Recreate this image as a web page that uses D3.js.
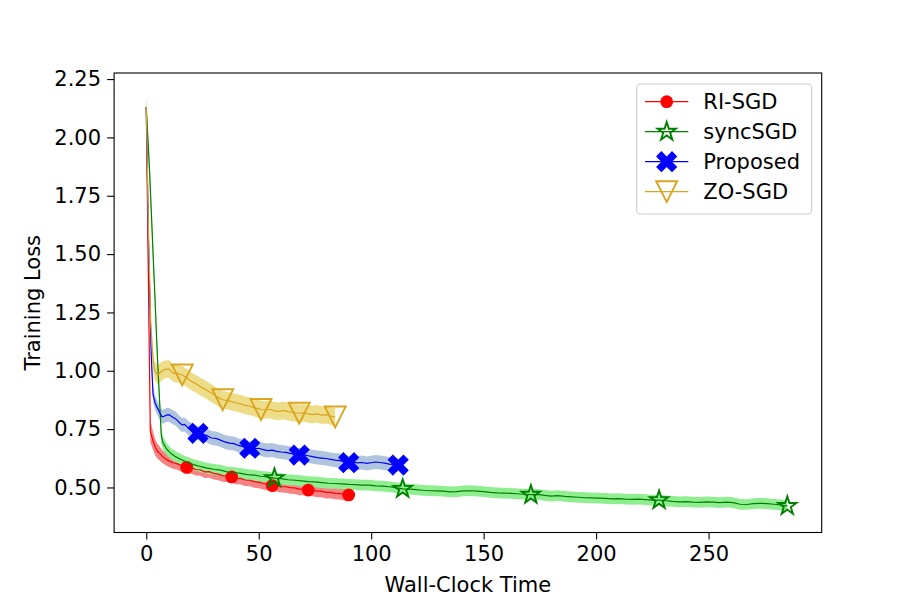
<!DOCTYPE html>
<html>
<head>
<meta charset="utf-8">
<script src="https://cdnjs.cloudflare.com/ajax/libs/d3/7.8.5/d3.min.js"></script>
<style>
  body { margin: 0; background: #fff; }
  svg text { font-family: "DejaVu Sans", sans-serif; fill: #000; }
</style>
</head>
<body>
<script>
// each row: [wall-clock time, mean training loss, std]
const riSgd = [
  [0, 2.13, 0.035], [1, 1.35, 0.05], [1.8, 0.74, 0.045], [3, 0.70, 0.04], [4, 0.672, 0.035],
  [5, 0.655, 0.032], [6, 0.646, 0.03], [7, 0.634, 0.028], [8, 0.626, 0.027], [10, 0.614, 0.026],
  [12, 0.606, 0.026], [14, 0.601, 0.026], [16, 0.592, 0.026], [18, 0.586, 0.026], [20, 0.585, 0.026],
  [22, 0.577, 0.026], [24, 0.576, 0.026], [26, 0.567, 0.026], [28, 0.568, 0.026], [30, 0.560, 0.026],
  [32, 0.557, 0.026], [34, 0.551, 0.026], [36, 0.549, 0.026], [38, 0.545, 0.026], [40, 0.540, 0.026],
  [42, 0.539, 0.026], [44, 0.532, 0.026], [46, 0.531, 0.026], [48, 0.525, 0.026], [50, 0.523, 0.026],
  [52, 0.517, 0.026], [54, 0.513, 0.026], [56, 0.508, 0.026], [58, 0.508, 0.026], [60, 0.504, 0.026],
  [62, 0.503, 0.026], [64, 0.499, 0.026], [66, 0.498, 0.026], [68, 0.493, 0.026], [70, 0.493, 0.026],
  [72, 0.489, 0.026], [74, 0.488, 0.026], [76, 0.484, 0.026], [78, 0.484, 0.026], [80, 0.479, 0.026],
  [82, 0.479, 0.026], [84, 0.475, 0.026], [86, 0.474, 0.026], [88, 0.470, 0.026], [90, 0.468, 0.026]
];
const syncSgd = [
  [0, 2.13, 0.035], [1.5, 1.85, 0.045], [3.7, 1.35, 0.045], [5, 1.05, 0.04], [6.7, 0.72, 0.032],
  [7.5, 0.69, 0.028], [9, 0.665, 0.025], [11, 0.645, 0.023], [13, 0.632, 0.023], [15, 0.622, 0.023],
  [17, 0.613, 0.023], [19, 0.605, 0.023], [21, 0.598, 0.023], [24, 0.590, 0.023], [27, 0.583, 0.023],
  [30, 0.578, 0.023], [33, 0.574, 0.023], [36, 0.567, 0.023], [39, 0.564, 0.023], [42, 0.560, 0.023],
  [45, 0.555, 0.023], [48, 0.553, 0.023], [51, 0.548, 0.023], [54, 0.545, 0.023], [57, 0.540, 0.023],
  [60, 0.538, 0.023], [63, 0.533, 0.023], [66, 0.531, 0.023], [69, 0.528, 0.023], [72, 0.525, 0.023],
  [75, 0.524, 0.023], [78, 0.521, 0.023], [81, 0.518, 0.023], [84, 0.517, 0.023], [87, 0.515, 0.023],
  [90, 0.513, 0.023], [93, 0.512, 0.023], [96, 0.510, 0.023], [99, 0.510, 0.023], [102, 0.507, 0.023],
  [105, 0.506, 0.023], [108, 0.503, 0.023], [111, 0.499, 0.023], [114, 0.494, 0.023], [117, 0.493, 0.023],
  [120, 0.491, 0.023], [123, 0.488, 0.023], [126, 0.486, 0.023], [129, 0.485, 0.023], [132, 0.484, 0.023],
  [135, 0.481, 0.023], [138, 0.482, 0.023], [141, 0.485, 0.023], [144, 0.486, 0.023], [147, 0.484, 0.023],
  [150, 0.482, 0.023], [153, 0.479, 0.023], [156, 0.477, 0.023], [159, 0.476, 0.023], [162, 0.475, 0.023],
  [165, 0.473, 0.023], [168, 0.471, 0.023], [171, 0.469, 0.023], [174, 0.470, 0.023], [177, 0.466, 0.023],
  [180, 0.463, 0.023], [183, 0.465, 0.023], [186, 0.462, 0.023], [189, 0.460, 0.023], [192, 0.458, 0.023],
  [195, 0.456, 0.023], [198, 0.455, 0.023], [201, 0.454, 0.023], [204, 0.453, 0.023], [207, 0.451, 0.023],
  [210, 0.452, 0.023], [213, 0.450, 0.023], [216, 0.449, 0.023], [219, 0.450, 0.023], [222, 0.448, 0.023],
  [225, 0.446, 0.023], [228, 0.446, 0.023], [231, 0.443, 0.023], [234, 0.440, 0.023], [237, 0.438, 0.023],
  [240, 0.439, 0.023], [243, 0.437, 0.023], [246, 0.436, 0.023], [249, 0.438, 0.023], [252, 0.437, 0.023],
  [255, 0.435, 0.023], [258, 0.437, 0.023], [261, 0.435, 0.023], [264, 0.428, 0.023], [267, 0.427, 0.023],
  [270, 0.431, 0.023], [273, 0.432, 0.023], [276, 0.431, 0.023], [279, 0.428, 0.023], [282, 0.425, 0.023],
  [285, 0.421, 0.023]
];
const proposed = [
  [0, 2.13, 0.05], [1, 1.55, 0.045], [2.2, 1.07, 0.04], [3, 0.90, 0.035], [4, 0.86, 0.03],
  [5, 0.84, 0.03], [6, 0.82, 0.03], [7, 0.803, 0.03], [8, 0.805, 0.03], [9, 0.810, 0.03],
  [10, 0.812, 0.03], [11, 0.806, 0.03], [12, 0.800, 0.03], [13, 0.795, 0.03], [14, 0.785, 0.03],
  [15, 0.775, 0.03], [16, 0.768, 0.03], [17, 0.770, 0.03], [18, 0.762, 0.03], [19, 0.752, 0.03],
  [20, 0.748, 0.03], [21, 0.742, 0.03], [23, 0.732, 0.03], [25, 0.728, 0.03], [27, 0.722, 0.03],
  [29, 0.712, 0.03], [31, 0.710, 0.03], [33, 0.703, 0.03], [35, 0.695, 0.03], [37, 0.690, 0.03],
  [39, 0.688, 0.03], [41, 0.680, 0.03], [43, 0.675, 0.03], [46, 0.668, 0.03], [48, 0.665, 0.03],
  [50, 0.668, 0.03], [52, 0.662, 0.03], [54, 0.658, 0.03], [56, 0.660, 0.03], [58, 0.655, 0.03],
  [60, 0.652, 0.03], [62, 0.650, 0.03], [64, 0.646, 0.03], [66, 0.641, 0.03], [68, 0.639, 0.03],
  [70, 0.640, 0.03], [72, 0.636, 0.03], [74, 0.632, 0.03], [76, 0.628, 0.03], [78, 0.626, 0.03],
  [80, 0.624, 0.03], [82, 0.620, 0.03], [84, 0.617, 0.03], [86, 0.615, 0.03], [88, 0.610, 0.03],
  [90, 0.606, 0.03], [92, 0.608, 0.03], [94, 0.605, 0.03], [96, 0.607, 0.03], [98, 0.603, 0.03],
  [100, 0.606, 0.03], [102, 0.609, 0.03], [104, 0.607, 0.03], [106, 0.604, 0.03], [108, 0.600, 0.03],
  [110, 0.598, 0.03], [112, 0.596, 0.03]
];
const zoSgd = [
  [0, 2.13, 0.045], [1, 1.60, 0.045], [2, 1.20, 0.042], [3, 1.05, 0.04], [3.7, 1.00, 0.04],
  [5, 0.982, 0.04], [6.5, 0.995, 0.04], [8, 1.005, 0.038], [10, 1.008, 0.038], [12, 0.990, 0.038],
  [14, 0.988, 0.038], [16, 0.982, 0.038], [18, 0.970, 0.038], [20, 0.955, 0.038], [22, 0.945, 0.038],
  [24, 0.932, 0.038], [26, 0.922, 0.038], [28, 0.910, 0.038], [30, 0.898, 0.038], [32, 0.885, 0.038],
  [34, 0.876, 0.038], [36, 0.872, 0.038], [38, 0.868, 0.038], [40, 0.862, 0.038], [42, 0.858, 0.038],
  [44, 0.852, 0.038], [46, 0.848, 0.038], [48, 0.842, 0.038], [51, 0.834, 0.038], [53, 0.832, 0.038],
  [55, 0.835, 0.038], [57, 0.828, 0.038], [59, 0.826, 0.038], [61, 0.830, 0.038], [63, 0.825, 0.038],
  [65, 0.822, 0.038], [68, 0.818, 0.038], [70, 0.820, 0.038], [72, 0.815, 0.038], [74, 0.812, 0.038],
  [76, 0.815, 0.038], [78, 0.810, 0.038], [80, 0.812, 0.038], [82, 0.806, 0.038], [84, 0.802, 0.038]
];

// times at which the markers sit (markevery)
const riSgdMarks = [18, 38, 56, 72, 90];
const syncSgdMarks = [57, 114, 171, 228, 285];
const proposedMarks = [23, 46, 68, 90, 112];
const zoSgdMarks = [16, 34, 51, 68, 84];

const labels = ["RI-SGD", "syncSGD", "Proposed", "ZO-SGD"];
const xTicks = [0, 50, 100, 150, 200, 250];
const yTicks = [0.50, 0.75, 1.00, 1.25, 1.50, 1.75, 2.00, 2.25];

const W = 913, H = 609;
const plot = { left: 114.1, right: 821.7, top: 73, bottom: 532.5 };

const series = [
  { name: labels[0], data: riSgd, marks: riSgdMarks, line: "#ff0000", band: "#f58383", marker: "circle" },
  { name: labels[1], data: syncSgd, marks: syncSgdMarks, line: "#008000", band: "#90ee90", marker: "star" },
  { name: labels[2], data: proposed, marks: proposedMarks, line: "#0000ff", band: "#b0c4de", marker: "x" },
  { name: labels[3], data: zoSgd, marks: zoSgdMarks, line: "#daa520", band: "#eedd88", marker: "tri" }
];

const svg = d3.select("body").append("svg")
  .attr("width", W).attr("height", H);

svg.append("rect").attr("width", W).attr("height", H).attr("fill", "#fff");

const x = d3.scaleLinear().domain([-14.3, 300.3]).range([plot.left, plot.right]);
const y = d3.scaleLinear().domain([0.307, 2.276]).range([plot.bottom, plot.top]);

svg.append("clipPath").attr("id", "clip")
  .append("rect")
  .attr("x", plot.left).attr("y", plot.top)
  .attr("width", plot.right - plot.left).attr("height", plot.bottom - plot.top);

const g = svg.append("g").attr("clip-path", "url(#clip)");

// marker shapes, matplotlib-like
function markerPath(kind) {
  if (kind === "circle") {
    return d3.symbol(d3.symbolCircle, Math.PI * 6.4 * 6.4)();
  }
  if (kind === "star") {
    const R = 9.6, r = R * 0.381966;
    const pts = d3.range(10).map(i => {
      const a = -Math.PI / 2 + i * Math.PI / 5;
      const rad = i % 2 === 0 ? R : r;
      return [rad * Math.cos(a), rad * Math.sin(a)];
    });
    return "M" + pts.map(p => p.join(",")).join("L") + "Z";
  }
  if (kind === "x") {
    const ms = 22.5;
    const base = [[-1, -3], [-1, -1], [-3, -1], [-3, 1], [-1, 1], [-1, 3], [1, 3], [1, 1], [3, 1], [3, -1], [1, -1], [1, -3]];
    const c = Math.SQRT1_2;
    const pts = base.map(([px, py]) => {
      const u = px / 6 * ms, v = py / 6 * ms;
      return [(u - v) * c, (u + v) * c];
    });
    return "M" + pts.map(p => p.join(",")).join("L") + "Z";
  }
  // triangle pointing down
  const h = 10.5;
  return `M0,${h}L${-h},${-h}L${h},${-h}Z`;
}

function styleMarker(sel, s) {
  if (s.marker === "star" || s.marker === "tri") {
    sel.attr("fill", "none").attr("stroke", s.line).attr("stroke-width", 1.9)
      .attr("stroke-linejoin", "miter");
  } else {
    sel.attr("fill", s.line).attr("stroke", "none");
  }
}

const area = d3.area()
  .x(d => x(d[0]))
  .y0(d => y(d[1] - d[2]))
  .y1(d => y(d[1] + d[2]));

const line = d3.line()
  .x(d => x(d[0]))
  .y(d => y(d[1]));

// bands below all lines
series.forEach(s => {
  g.append("path")
    .datum(s.data)
    .attr("d", area)
    .attr("fill", s.band);
});

series.forEach(s => {
  g.append("path")
    .datum(s.data)
    .attr("d", line)
    .attr("fill", "none")
    .attr("stroke", s.line)
    .attr("stroke-width", 1.2);

  const pts = s.data.filter(d => s.marks.includes(d[0]));
  g.selectAll(null)
    .data(pts)
    .enter().append("path")
    .attr("d", markerPath(s.marker))
    .attr("transform", d => `translate(${x(d[0])},${y(d[1])})`)
    .call(styleMarker, s);
});

// axes
const xAxis = svg.append("g")
  .attr("transform", `translate(0,${plot.bottom})`)
  .call(d3.axisBottom(x).tickValues(xTicks).tickSize(7).tickPadding(6).tickFormat(d3.format("d")));
const yAxis = svg.append("g")
  .attr("transform", `translate(${plot.left},0)`)
  .call(d3.axisLeft(y).tickValues(yTicks).tickSize(7).tickPadding(6).tickFormat(d3.format(".2f")));

[xAxis, yAxis].forEach(a => {
  a.select(".domain").remove();
  a.selectAll(".tick line").attr("stroke", "#000").attr("stroke-width", 1.1);
  a.selectAll(".tick text").attr("font-size", 21).attr("font-family", "DejaVu Sans");
});
xAxis.selectAll(".tick text").attr("dy", "0.76em");

svg.append("rect")
  .attr("x", plot.left).attr("y", plot.top)
  .attr("width", plot.right - plot.left).attr("height", plot.bottom - plot.top)
  .attr("fill", "none").attr("stroke", "#000").attr("stroke-width", 1.1);

svg.append("text")
  .attr("x", (plot.left + plot.right) / 2).attr("y", 592)
  .attr("text-anchor", "middle").attr("font-size", 21)
  .text("Wall-Clock Time");

svg.append("text")
  .attr("transform", `translate(40,${(plot.top + plot.bottom) / 2}) rotate(-90)`)
  .attr("text-anchor", "middle").attr("font-size", 21)
  .text("Training Loss");

// legend
const legend = svg.append("g");
legend.append("rect")
  .attr("x", 636.7).attr("y", 84).attr("width", 175).attr("height", 130)
  .attr("rx", 4).attr("fill", "#fff").attr("fill-opacity", 0.8)
  .attr("stroke", "#cccccc").attr("stroke-width", 1.1);

series.forEach((s, i) => {
  const cy = 101.7 + i * 30;
  legend.append("line")
    .attr("x1", 645).attr("x2", 688.3).attr("y1", cy).attr("y2", cy)
    .attr("stroke", s.line).attr("stroke-width", 1.2);
  legend.append("path")
    .attr("d", markerPath(s.marker))
    .attr("transform", `translate(666.7,${cy})`)
    .call(styleMarker, s);
  legend.append("text")
    .attr("x", 703.3).attr("y", cy + 7.5)
    .attr("font-size", 21)
    .text(s.name);
});
</script>
</body>
</html>
